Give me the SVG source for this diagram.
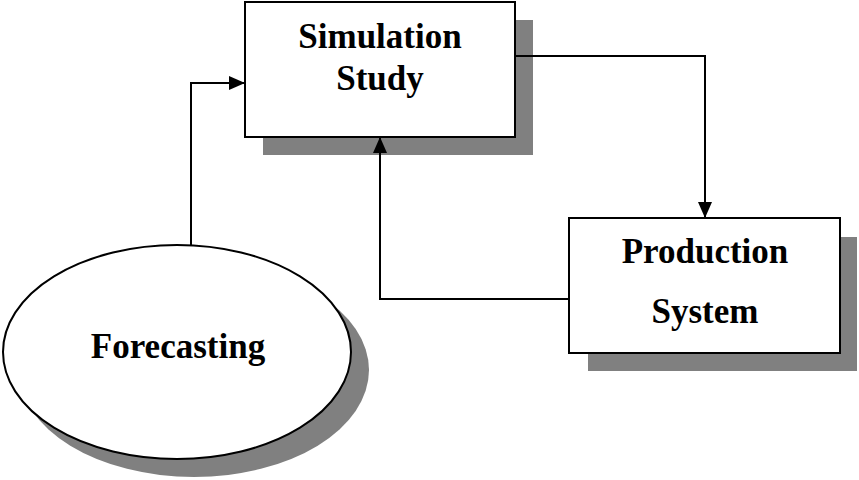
<svg xmlns="http://www.w3.org/2000/svg" width="859" height="480" viewBox="0 0 859 480">
<style>
.box{fill:#fff;stroke:#000;stroke-width:2}
.sh{fill:#808080}
.t{font-family:"Liberation Serif","Times New Roman",serif;font-weight:bold;font-size:35px;text-anchor:middle;fill:#000}
.c{fill:none;stroke:#000;stroke-width:2}
</style>
<defs>
<marker id="ah" markerWidth="16" markerHeight="14" refX="15" refY="7" orient="auto" markerUnits="userSpaceOnUse">
<path d="M0,0 L16,7 L0,14 Z" fill="#000"/>
</marker>
</defs>
<rect width="859" height="480" fill="#fff"/>
<g id="simulation">
<rect class="sh" x="263" y="20" width="270" height="135"/>
<rect class="box" x="245" y="2" width="270" height="135"/>
<text class="t" x="380" y="48">Simulation</text>
<text class="t" x="380" y="90">Study</text>
</g>
<g id="production">
<rect class="sh" x="588" y="237" width="269" height="134"/>
<rect class="box" x="569" y="218" width="271" height="135"/>
<text class="t" x="705" y="263">Production</text>
<text class="t" x="705" y="323">System</text>
</g>
<g id="forecasting">
<ellipse class="sh" cx="194" cy="370" rx="175" ry="107"/>
<ellipse class="box" cx="177" cy="352" rx="174" ry="107"/>
<text class="t" x="178" y="358">Forecasting</text>
</g>
<g id="connectors">
<polyline class="c" points="191,245 191,83 244,83" marker-end="url(#ah)"/>
<polyline class="c" points="569,299 380,299 380,138" marker-end="url(#ah)"/>
<polyline class="c" points="515,56 705,56 705,217" marker-end="url(#ah)"/>
</g>
</svg>
